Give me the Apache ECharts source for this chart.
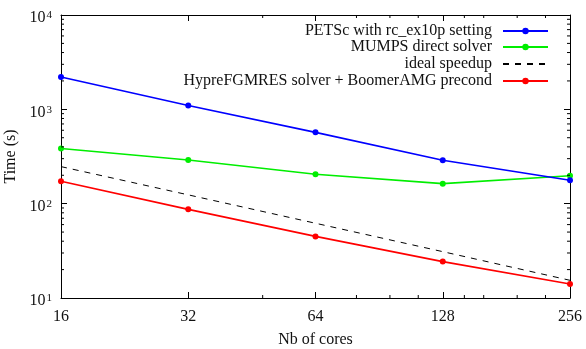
<!DOCTYPE html>
<html><head><meta charset="utf-8">
<script src="https://cdn.jsdelivr.net/npm/echarts@6/dist/echarts.min.js"></script>
<style>html,body{margin:0;padding:0;background:#fff}#c{width:586px;height:349px}</style>
</head><body><div id="c"></div>
<script>
const cores = [16, 32, 64, 128, 256];
const petsc = [2200, 1100, 570, 288, 177];
const mumps = [385, 290, 205, 163, 198];
const ideal = [247, 124, 62, 31, 15.4];
const hypre = [173, 87, 45, 24.3, 14.1];
const names = ['PETSc with rc_ex10p setting', 'MUMPS direct solver', 'ideal speedup', 'HypreFGMRES solver + BoomerAMG precond'];
const xTicks = [16, 32, 64, 128, 256];
const yTicks = [10, 100, 1000, 10000];
const xMinor = [48, 80, 96, 112, 144, 160, 192, 224];
const yMinor = [20, 30, 40, 50, 60, 70, 80, 90, 200, 300, 400, 500, 600, 700, 800, 900, 2000, 3000, 4000, 5000, 6000, 7000, 8000, 9000];
const xMin = 16, xMax = 256, yMin = 10, yMax = 10000;

const FONT = 'Liberation Serif';
const TXT = '#111';
const chart = echarts.init(document.getElementById('c'), null, {renderer: 'canvas'});
const pair = (a) => cores.map((c, i) => [c, a[i]]);

function legend(name, top, hideSymbol) {
  const l = {
    data: [name], right: 37, top: top, padding: 0, align: 'right',
    itemWidth: 45, itemHeight: 8, selectedMode: false,
    textStyle: {fontFamily: FONT, fontSize: 16, color: TXT, padding: [0, 6, 0, 0]}
  };
  if (hideSymbol) l.itemStyle = {opacity: 0};
  return l;
}

const axisCommon = {
  axisLine: {show: true, lineStyle: {color: '#000', width: 1}},
  splitLine: {show: false}
};

chart.setOption({
  animation: false,
  backgroundColor: '#fff',
  grid: {left: 61, right: 16, top: 15, bottom: 51, containLabel: false, outerBoundsMode: 'none'},
  legend: [legend(names[0], 23), legend(names[1], 39), legend(names[2], 56, true), legend(names[3], 73)],
  xAxis: [
    Object.assign({}, axisCommon, {
      type: 'log', logBase: 2, min: xMin, max: xMax, position: 'bottom',
      name: 'Nb of cores', nameLocation: 'middle', nameGap: 34,
      nameTextStyle: {fontFamily: FONT, fontSize: 16, color: TXT},
      axisTick: {show: true, inside: true, length: 6, lineStyle: {color: '#000'}, customValues: xTicks},
      axisLabel: {show: true, margin: 11, fontFamily: FONT, fontSize: 16, color: TXT, customValues: xTicks,
        formatter: (v) => String(Math.round(v))}
    }),
    Object.assign({}, axisCommon, {
      type: 'log', logBase: 2, min: xMin, max: xMax, position: 'top',
      axisTick: {show: true, inside: true, length: 6, lineStyle: {color: '#000'}, customValues: xTicks},
      axisLabel: {show: false}
    })
  ],
  yAxis: [
    Object.assign({}, axisCommon, {
      type: 'log', logBase: 10, min: yMin, max: yMax, position: 'left',
      name: 'Time (s)', nameLocation: 'middle', nameGap: 37, nameRotate: 90,
      nameTextStyle: {fontFamily: FONT, fontSize: 16, color: TXT},
      axisTick: {show: true, inside: true, length: 6, lineStyle: {color: '#000'}, customValues: yTicks},
      axisLabel: {show: true, margin: 9, customValues: yTicks, padding: [6, 0, 0, 0],
        formatter: (v) => '{b|10}{s|' + Math.round(Math.log10(v)) + '}',
        rich: {
          b: {fontFamily: FONT, fontSize: 16, color: TXT, lineHeight: 16, verticalAlign: 'bottom'},
          s: {fontFamily: FONT, fontSize: 11, color: TXT, lineHeight: 11, verticalAlign: 'top', padding: [0, 0, 11, 1]}
        }}
    }),
    Object.assign({}, axisCommon, {
      type: 'log', logBase: 10, min: yMin, max: yMax, position: 'right',
      axisTick: {show: true, inside: true, length: 6, lineStyle: {color: '#000'}, customValues: yTicks},
      axisLabel: {show: false}
    })
  ],
  series: [
    {name: names[0], type: 'line', data: pair(petsc), symbol: 'circle', symbolSize: 6,
      itemStyle: {color: '#0000ff'}, lineStyle: {color: '#0000ff', width: 1.6}, z: 5},
    {name: names[1], type: 'line', data: pair(mumps), symbol: 'circle', symbolSize: 6,
      itemStyle: {color: '#00ee00'}, lineStyle: {color: '#00ee00', width: 1.6}, z: 4},
    {name: names[2], type: 'line', data: pair(ideal), symbol: 'none',
      itemStyle: {color: '#000'}, lineStyle: {color: '#000', width: 1, type: [6, 6]}, z: 3},
    {name: names[3], type: 'line', data: pair(hypre), symbol: 'circle', symbolSize: 6,
      itemStyle: {color: '#ff0000'}, lineStyle: {color: '#ff0000', width: 1.6}, z: 4},
    {type: 'custom', silent: true, clip: false, z: 10, data: xMinor.map(v => [v, yMin]),
      renderItem: (params, api) => {
        const v = api.value(0);
        const b = api.coord([v, yMin]), t = api.coord([v, yMax]);
        return {type: 'group', children: [
          {type: 'line', shape: {x1: b[0], y1: b[1], x2: b[0], y2: b[1] - 3}, style: {stroke: '#000', lineWidth: 1}},
          {type: 'line', shape: {x1: t[0], y1: t[1], x2: t[0], y2: t[1] + 3}, style: {stroke: '#000', lineWidth: 1}}
        ]};
      }},
    {type: 'custom', silent: true, clip: false, z: 10, data: yMinor.map(v => [xMin, v]),
      renderItem: (params, api) => {
        const v = api.value(1);
        const l = api.coord([xMin, v]), r = api.coord([xMax, v]);
        return {type: 'group', children: [
          {type: 'line', shape: {x1: l[0], y1: l[1], x2: l[0] + 3, y2: l[1]}, style: {stroke: '#000', lineWidth: 1}},
          {type: 'line', shape: {x1: r[0], y1: r[1], x2: r[0] - 3, y2: r[1]}, style: {stroke: '#000', lineWidth: 1}}
        ]};
      }}
  ]
});
</script></body></html>
